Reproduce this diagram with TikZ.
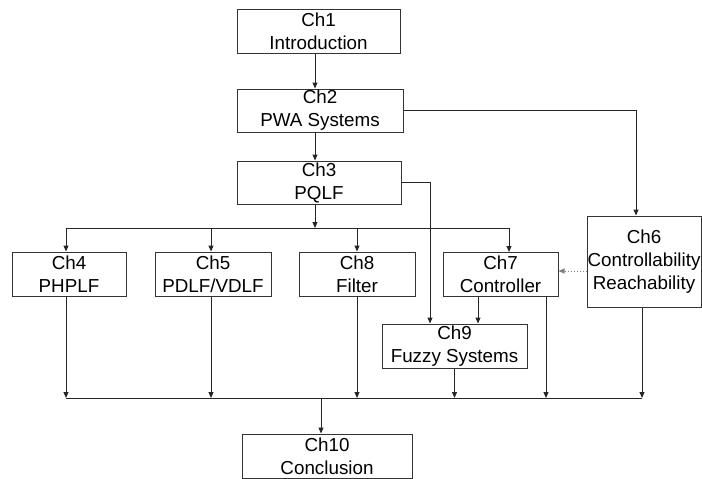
\documentclass[tikz,border=0pt]{standalone}
\usepackage{fontspec}
\setmainfont{Liberation Sans}
\usetikzlibrary{arrows.meta}
\begin{document}
\begin{tikzpicture}[x=1pt,y=-1pt,
  box/.style={draw=black!80,line width=1pt,inner sep=0pt,align=center,
    font=\fontsize{18.8}{23}\selectfont,fill=white},
  conn/.style={draw=black!85,line width=1pt},
  arr/.style={conn,-{Triangle[length=6pt,width=5pt]}},
  dotarr/.style={draw=black!50,line width=1pt,dotted,-{Triangle[length=6pt,width=5pt]}}]
\useasboundingbox (0,0) rectangle (702,479);
\node[box,minimum width=163pt,minimum height=44pt] (ch1) at (318.5,31) {Ch1\\Introduction};
\node[box,minimum width=166pt,minimum height=43pt] (ch2) at (320,110.5) {Ch2\\PWA Systems};
\node[box,minimum width=164pt,minimum height=43pt] (ch3) at (319,182.5) {Ch3\\PQLF};
\node[box,minimum width=114pt,minimum height=44pt] (ch4) at (69,274) {Ch4\\PHPLF};
\node[box,minimum width=116pt,minimum height=44pt] (ch5) at (213,274) {Ch5\\PDLF/VDLF};
\node[box,minimum width=116pt,minimum height=44pt] (ch8) at (357,274) {Ch8\\Filter};
\node[box,minimum width=115pt,minimum height=44pt] (ch7) at (500.5,274.5) {Ch7\\Controller};
\node[box,minimum width=114pt,minimum height=91pt] (ch6) at (644,261.5) {Ch6\\Controllability\\Reachability};
\node[box,minimum width=145pt,minimum height=44pt] (ch9) at (454.5,346) {Ch9\\Fuzzy Systems};
\node[box,minimum width=170pt,minimum height=44pt] (ch10) at (327,456) {Ch10\\Conclusion};
% helper coordinates
\coordinate (xa) at (315,0);
\coordinate (xc6) at (636,0);
\coordinate (xc9) at (430,0);
\coordinate (busA) at (0,228);
\coordinate (busB) at (0,398);
\coordinate (yd) at (0,271);
\coordinate (x4) at (66,0);
\coordinate (x5) at (211,0);
\coordinate (x8) at (357,0);
\coordinate (x7) at (509,0);
\coordinate (x79) at (478,0);
\coordinate (x7b) at (546,0);
\coordinate (x6b) at (642,0);
\coordinate (x10) at (321,0);
% connectors
\draw[arr] (ch1.south -| xa) -- (ch2.north -| xa);
\draw[arr] (ch2.south -| xa) -- (ch3.north -| xa);
\draw[arr] (ch3.south -| xa) -- (xa |- busA);
\draw[conn] (x4 |- busA) -- (x7 |- busA);
\draw[arr] (x4 |- busA) -- (ch4.north -| x4);
\draw[arr] (x5 |- busA) -- (ch5.north -| x5);
\draw[arr] (x8 |- busA) -- (ch8.north -| x8);
\draw[arr] (x7 |- busA) -- (ch7.north -| x7);
\draw[arr] (ch2.east) -| (xc6 |- ch6.north);
\draw[arr] (ch3.east) -| (xc9 |- ch9.north);
\draw[dotarr] (ch6.west |- yd) -- (ch7.east |- yd);
\draw[arr] (ch7.south -| x79) -- (ch9.north -| x79);
\draw[conn] (x4 |- busB) -- (x6b |- busB);
\draw[arr] (ch4.south -| x4) -- (x4 |- busB);
\draw[arr] (ch5.south -| x5) -- (x5 |- busB);
\draw[arr] (ch8.south -| x8) -- (x8 |- busB);
\draw[arr] (ch9.south) -- (ch9.south |- busB);
\draw[arr] (ch7.south -| x7b) -- (x7b |- busB);
\draw[arr] (ch6.south -| x6b) -- (x6b |- busB);
\draw[arr] (x10 |- busB) -- (ch10.north -| x10);
\end{tikzpicture}
\end{document}
